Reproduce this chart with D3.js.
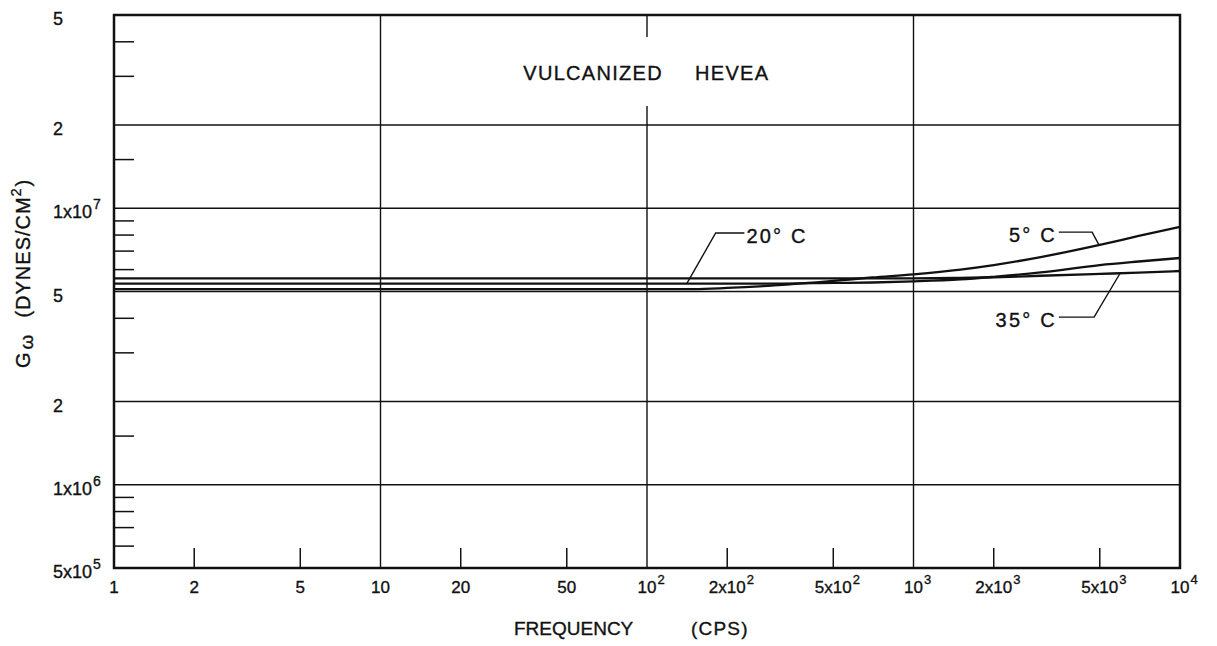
<!DOCTYPE html>
<html><head><meta charset="utf-8">
<script src="https://cdn.jsdelivr.net/npm/d3@7"></script>
<style>
html,body{margin:0;padding:0;background:#fff;}
text{font-family:"Liberation Sans",Arial,sans-serif;fill:#111;stroke:#111;stroke-width:0.35px;}
</style></head><body>
<svg id="chart" width="1217" height="646"></svg>
<script>
// ---- data ----
const freq = [1, 10, 100, 150, 200, 300, 500, 700, 1000, 1500, 2000, 3000, 5000, 7000, 10000];
const g5C  = [5.10e6,5.10e6,5.10e6,5.10e6,5.15e6,5.26e6,5.46e6,5.62e6,5.77e6,6.00e6,6.23e6,6.66e6,7.37e6,7.94e6,8.56e6];
const g20C = [5.34e6,5.34e6,5.34e6,5.34e6,5.34e6,5.34e6,5.37e6,5.39e6,5.44e6,5.53e6,5.65e6,5.86e6,6.23e6,6.42e6,6.61e6];
const g35C = [5.58e6,5.58e6,5.58e6,5.58e6,5.58e6,5.58e6,5.58e6,5.58e6,5.58e6,5.60e6,5.63e6,5.70e6,5.79e6,5.85e6,5.93e6];
const seriesNames = ["5° C", "20° C", "35° C"];

// annotation (label) placement in data units
const labelFreq   = [3450, 236, 3450];
const labelAnchor = ["end", "start", "end"];
const labelValue  = [8.2e6, 8.14e6, 4.04e6];
const elbowFreq   = [4680, 181, 4760];
const tipFreq     = [4970, 141, 5960];

// axes
const xTickValues = [1,2,5,10,20,50,100,200,500,1000,2000,5000,10000];
const xTickBase   = ["1","2","5","10","20","50","10","2x10","5x10","10","2x10","5x10","10"];
const xTickSup    = ["","","","","","","2","2","2","3","3","3","4"];
const xGrid       = [10,100,1000];
const xMinor      = [2,5,20,50,200,500,2000,5000];

const yTickValues = [5e5,1e6,2e6,5e6,1e7,2e7,5e7];
const yTickBase   = ["5x10","1x10","2","5","1x10","2","5"];
const yTickSup    = ["5","6","","","7","",""];
const yGrid       = [1e6,2e6,5e6,1e7,2e7];
const yMinor      = [6e5,7e5,8e5,9e5,1.5e6,3e6,4e6,6e6,7e6,8e6,9e6,1.5e7,3e7,4e7];

const titleWords = ["VULCANIZED", "HEVEA"];
const xTitle = ["FREQUENCY", "(CPS)"];

// ---- layout ----
const x0 = 114, x1 = 1180, y0 = 15, y1 = 568;
const x = d3.scaleLog().domain([1, 1e4]).range([x0, x1]);
const y = d3.scaleLog().domain([5e5, 5e7]).range([y1, y0]);
const svg = d3.select("#chart");
const ink = "#111";

// title
const title = svg.append("g");
title.append("text").attr("x", x(100) + 16).attr("y", 80).attr("text-anchor", "end")
  .attr("font-size", 20).attr("letter-spacing", 1.3).text(titleWords[0]);
title.append("text").attr("x", x(100) + 48).attr("y", 80).attr("text-anchor", "start")
  .attr("font-size", 20).attr("letter-spacing", 1.3).text(titleWords[1]);
const titleTop = 80 - 15 - 28, titleBottom = 80 + 26;

// gridlines
svg.append("g").selectAll("line").data(yGrid).join("line")
  .attr("x1", x0).attr("x2", x1).attr("y1", d => y(d)).attr("y2", d => y(d))
  .attr("stroke", ink).attr("stroke-width", 1.4);
xGrid.forEach(v => {
  const segs = v === 100 ? [[y0, titleTop], [titleBottom, y1]] : [[y0, y1]];
  segs.forEach(s => svg.append("line").attr("x1", x(v)).attr("x2", x(v)).attr("y1", s[0]).attr("y2", s[1])
    .attr("stroke", ink).attr("stroke-width", 1.4));
});

// minor ticks
svg.append("g").selectAll("line").data(yMinor).join("line")
  .attr("x1", x0).attr("x2", x0 + 20).attr("y1", d => y(d)).attr("y2", d => y(d))
  .attr("stroke", ink).attr("stroke-width", 1.5);
svg.append("g").selectAll("line").data(xMinor).join("line")
  .attr("x1", d => x(d)).attr("x2", d => x(d)).attr("y1", y1).attr("y2", y1 - 20)
  .attr("stroke", ink).attr("stroke-width", 1.5);

// frame
svg.append("rect").attr("x", x0).attr("y", y0).attr("width", x1 - x0).attr("height", y1 - y0)
  .attr("fill", "none").attr("stroke", ink).attr("stroke-width", 2.5);

// curves
const seriesVals = [g5C, g20C, g35C];
const line = d3.line().x(d => x(d[0])).y(d => y(d[1])).curve(d3.curveMonotoneX);
seriesVals.forEach(vals => {
  svg.append("path").datum(freq.map((f, i) => [f, vals[i]]))
    .attr("d", line).attr("fill", "none").attr("stroke", ink).attr("stroke-width", 2.3);
});

// value of a series at a frequency (log-log between read points), for leader tips
function valueAt(vals, f) {
  const lf = Math.log10(f);
  for (let i = 0; i < freq.length - 1; i++) {
    const a = Math.log10(freq[i]), b = Math.log10(freq[i + 1]);
    if (lf >= a && lf <= b) {
      const t = (lf - a) / (b - a);
      return Math.pow(10, Math.log10(vals[i]) + t * (Math.log10(vals[i + 1]) - Math.log10(vals[i])));
    }
  }
  return vals[vals.length - 1];
}

// labels + leaders
seriesNames.forEach((name, i) => {
  const ly = y(labelValue[i]);
  const lx = x(labelFreq[i]);
  svg.append("text").attr("x", lx).attr("y", ly + 10).attr("text-anchor", labelAnchor[i])
    .attr("font-size", 20).attr("letter-spacing", 2.2).text(name);
  const startX = labelAnchor[i] === "end" ? lx + 2 : lx - 2;
  const pts = [[startX, ly], [x(elbowFreq[i]), ly], [x(tipFreq[i]), y(valueAt(seriesVals[i], tipFreq[i]))]];
  svg.append("path").attr("d", d3.line()(pts)).attr("fill", "none").attr("stroke", ink).attr("stroke-width", 1.4);
});

// x tick labels
xTickValues.forEach((v, i) => {
  const t = svg.append("text").attr("x", x(v)).attr("y", 593).attr("text-anchor", "middle")
    .attr("font-size", 17).text(xTickBase[i]);
  if (xTickSup[i]) {
    const w = t.node().getComputedTextLength();
    svg.append("text").attr("x", x(v) + w / 2 + 1).attr("y", 584).attr("font-size", 13).text(xTickSup[i]);
  }
});

// y tick labels
yTickValues.forEach((v, i) => {
  const t = svg.append("text").attr("x", 53).attr("y", y(v) + 10).attr("font-size", 18).text(yTickBase[i]);
  if (yTickSup[i]) {
    const w = t.node().getComputedTextLength();
    svg.append("text").attr("x", 53 + w + 1).attr("y", y(v) + 1).attr("font-size", 14).text(yTickSup[i]);
  }
});

// x axis title
svg.append("text").attr("x", 514).attr("y", 635).attr("font-size", 19).text(xTitle[0]);
svg.append("text").attr("x", 691).attr("y", 635).attr("font-size", 19).attr("letter-spacing", 1.2).text(xTitle[1]);

// y axis title
const yt = svg.append("text").attr("transform", "translate(30,368) rotate(-90)").attr("font-size", 20);
yt.append("tspan").text("G");
yt.append("tspan").attr("font-size", 19).attr("dy", 3).attr("dx", 3).text("ω");
yt.append("tspan").attr("dy", -3).attr("dx", 17).attr("letter-spacing", 1).text("(DYNES/CM");
yt.append("tspan").attr("font-size", 14).attr("dy", -9).text("2");
yt.append("tspan").attr("dy", 9).attr("dx", 2).text(")");
</script>
</body></html>
